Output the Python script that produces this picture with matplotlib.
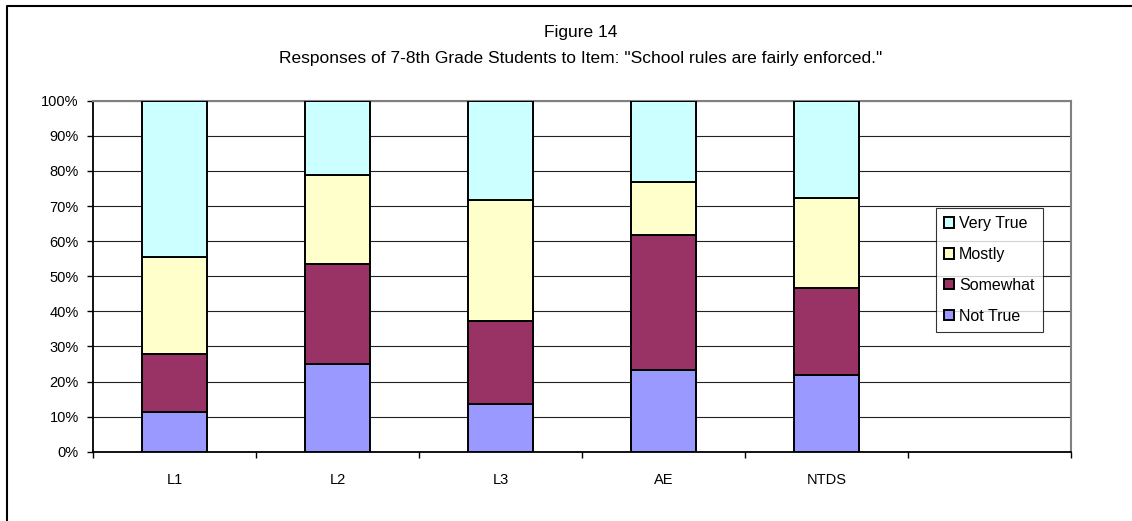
import numpy as np
import matplotlib
matplotlib.use("Agg")
import matplotlib.pyplot as plt
from matplotlib.lines import Line2D

plt.rcParams['font.family'] = ['Liberation Sans', 'DejaVu Sans']

# data (percent of students)
groups = ["L1", "L2", "L3", "AE", "NTDS", ""]
not_true = [11.2, 25.1, 13.7, 23.3, 21.9, 0]
somewhat = [16.5, 28.4, 23.5, 38.3, 24.6, 0]
mostly = [27.7, 25.2, 34.6, 15.2, 25.8, 0]
very_true = [44.6, 21.3, 28.2, 23.2, 27.7, 0]

series = [("Not True", not_true, "#9999FF"),
          ("Somewhat", somewhat, "#993366"),
          ("Mostly", mostly, "#FFFFCC"),
          ("Very True", very_true, "#CCFFFF")]

fig = plt.figure(figsize=(11.32, 5.21), dpi=100)
ax = fig.add_axes([0.0824, 0.1330, 0.8637, 0.6737])

x = np.arange(len(groups))
n = 5  # last slot is empty
bottom = np.zeros(n)
handles = []
for name, vals, col in series:
    v = np.array(vals[:n])
    b = ax.bar(x[:n], v, width=0.4, bottom=bottom, color=col,
               edgecolor="black", linewidth=1.4, label=name, zorder=3)
    handles.append(b)
    bottom += v

ax.set_xlim(-0.5, len(groups) - 0.5)
ax.set_ylim(0, 100)
ax.set_yticks(np.arange(0, 101, 10))
ax.set_yticklabels(["%d%%" % t for t in range(0, 101, 10)], fontsize=10.5)
ax.yaxis.grid(True, color="#222222", linewidth=0.8, zorder=0)

# ticks between categories, labels at centres
ax.set_xticks(np.arange(-0.5, len(groups), 1.0))
ax.set_xticklabels([])
ax.set_xticks(x, minor=True)
ax.set_xticklabels(groups, minor=True, fontsize=10.5)
ax.tick_params(axis="x", which="minor", length=0, pad=15)
ax.tick_params(axis="x", which="major", length=4.5, width=1, direction="out")
ax.tick_params(axis="y", length=4.5, width=1, direction="out", pad=6)

for s in ["left", "bottom"]:
    ax.spines[s].set_color("black")
    ax.spines[s].set_linewidth(1.3)
for s in ["top", "right"]:
    ax.spines[s].set_color("#808080")
    ax.spines[s].set_linewidth(1.5)

leg = ax.legend(handles[::-1], [s[0] for s in series][::-1],
                loc="upper left", bbox_to_anchor=(0.862, 0.694),
                borderaxespad=0, fontsize=11.5, frameon=True, fancybox=False,
                edgecolor="black", handlelength=0.6, handleheight=0.6,
                handletextpad=0.35, labelspacing=1.0, borderpad=0.5)
leg.get_frame().set_linewidth(0.8)

fig.text(0.513, 0.9376, "Figure 14", ha="center", va="center", fontsize=12.5)
fig.text(0.513, 0.8868,
         'Responses of 7-8th Grade Students to Item: "School rules are fairly enforced."',
         ha="center", va="center", fontsize=12.5)

# outer chart border (left and top edges visible)
fig.add_artist(Line2D([7 / 1132, 7 / 1132, 1.01], [-0.01, 1 - 5.5 / 521, 1 - 5.5 / 521],
                      transform=fig.transFigure, color="black", linewidth=1.5))

fig.savefig("out.png", dpi=100)
plt.close(fig)
